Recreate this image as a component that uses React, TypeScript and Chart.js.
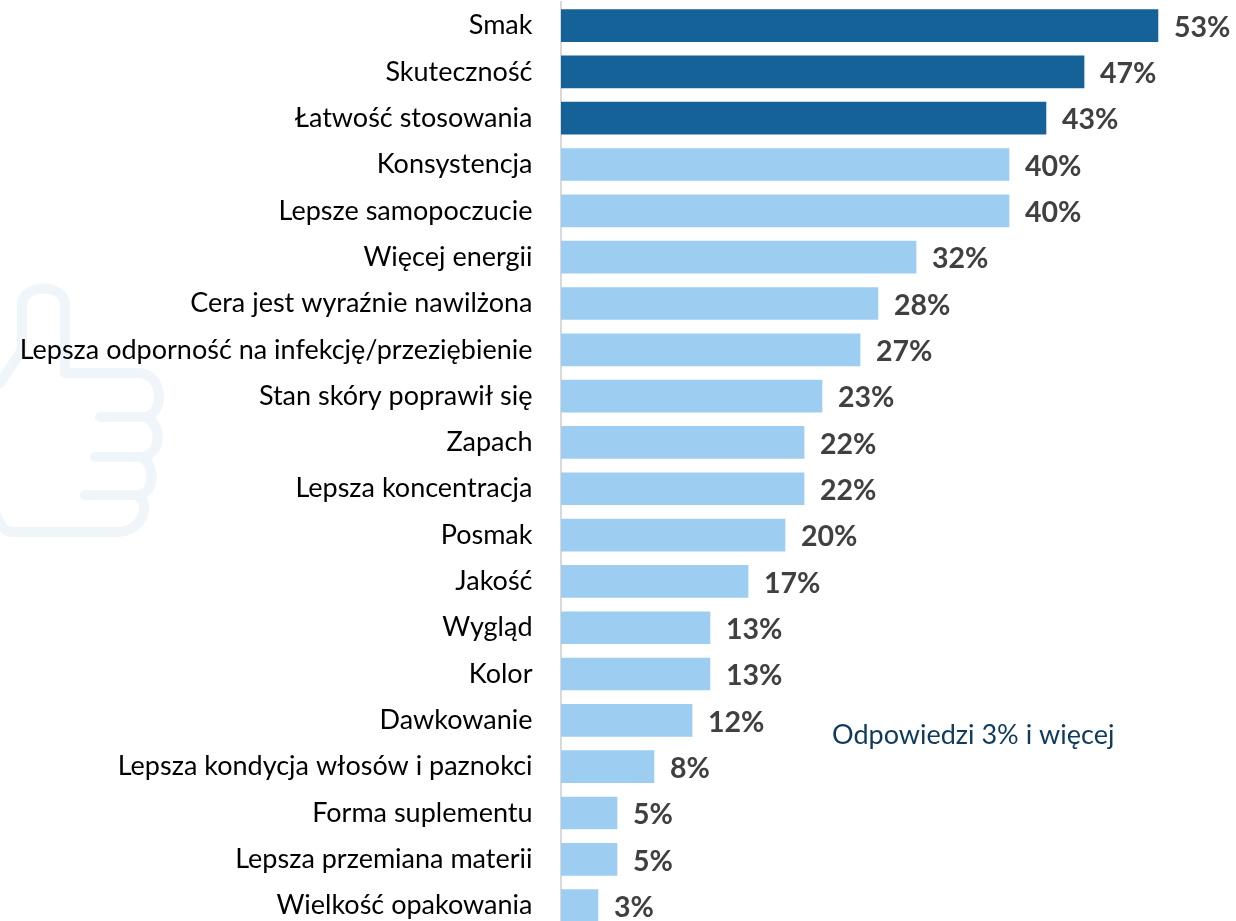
import React, { useEffect, useRef } from "react";
import { Chart, registerables } from "chart.js";

Chart.register(...registerables);

const categories = [
  "Smak", "Skuteczność", "Łatwość stosowania", "Konsystencja", "Lepsze samopoczucie",
  "Więcej energii", "Cera jest wyraźnie nawilżona", "Lepsza odporność na infekcję/przeziębienie",
  "Stan skóry poprawił się", "Zapach", "Lepsza koncentracja", "Posmak", "Jakość", "Wygląd",
  "Kolor", "Dawkowanie", "Lepsza kondycja włosów i paznokci", "Forma suplementu",
  "Lepsza przemiana materii", "Wielkość opakowania",
];
const values = [53.3, 46.7, 43.3, 40, 40, 31.7, 28.3, 26.7, 23.3, 21.7, 21.7, 20, 16.7, 13.3, 13.3, 11.7, 8.3, 5, 5, 3.3];
const labels = ["53%", "47%", "43%", "40%", "40%", "32%", "28%", "27%", "23%", "22%", "22%", "20%", "17%", "13%", "13%", "12%", "8%", "5%", "5%", "3%"];
const DARK = "#156299";
const LIGHT = "#9DCEF2";
const darkCount = 3;
const note = "Odpowiedzi 3% i więcej";
const thumb =
  "M0 383 L22 350 L22 305 C22 283 65 283 65 305 L65 373 L138 373 C165 373 165 417 143 417 L100 417 M143 417 C163 420 163 457 140 457 L95 457 M140 457 C156 462 156 495 137 495 L85 495 M137 495 C152 505 142 532 117 532 L12 532 C5 532 0 525 -4 515";

const decor = {
  id: "decor",
  beforeDraw(chart: any) {
    const c = chart.ctx;
    c.save();
    c.strokeStyle = "#EFF5F9";
    c.lineWidth = 10;
    c.lineCap = "round";
    c.lineJoin = "round";
    c.stroke(new Path2D(thumb));
    c.restore();
  },
  afterDatasetsDraw(chart: any) {
    const c = chart.ctx;
    const meta = chart.getDatasetMeta(0);
    c.save();
    c.font = "bold 28.5px Lato";
    c.fillStyle = "#404040";
    c.textAlign = "left";
    c.textBaseline = "middle";
    meta.data.forEach((el: any, i: number) => c.fillText(labels[i], el.x + 16, el.y + 2));
    c.font = "27px Lato";
    c.fillStyle = "#0F3A5C";
    c.fillText(note, 832, 735);
    c.restore();
  },
};

export default function App() {
  const ref = useRef<HTMLCanvasElement>(null);
  useEffect(() => {
    document.documentElement.style.overflow = "hidden";
    document.body.style.margin = "0";
    document.body.style.background = "#fff";
    const chart = new Chart(ref.current!, {
      type: "bar",
      data: {
        labels: categories,
        datasets: [{
          data: values,
          backgroundColor: values.map((_, i) => (i < darkCount ? DARK : LIGHT)),
          barThickness: 32,
        }],
      },
      options: {
        indexAxis: "y",
        animation: false,
        responsive: false,
        layout: { padding: { top: 2.4, bottom: 0.2, right: 3, left: 0 } },
        plugins: { legend: { display: false }, tooltip: { enabled: false } },
        scales: {
          x: { display: false, min: 0, max: 60 },
          y: {
            afterFit: (s: any) => { s.width = 561; s.paddingTop = 0; s.paddingBottom = 0; },
            grid: { display: false, drawTicks: false, tickLength: 0 },
            border: { color: "#D9D9D9", width: 2 },
            ticks: {
              autoSkip: false,
              color: "#000",
              padding: 28.5,
              font: { family: "Lato", size: 27 },
            },
          },
        },
      },
      plugins: [decor],
    } as any);
    return () => chart.destroy();
  }, []);
  return (
    <div style={{ width: 1236, height: 921, overflow: "hidden" }}>
      <canvas ref={ref} width={1236} height={929} style={{ display: "block" }} />
    </div>
  );
}
